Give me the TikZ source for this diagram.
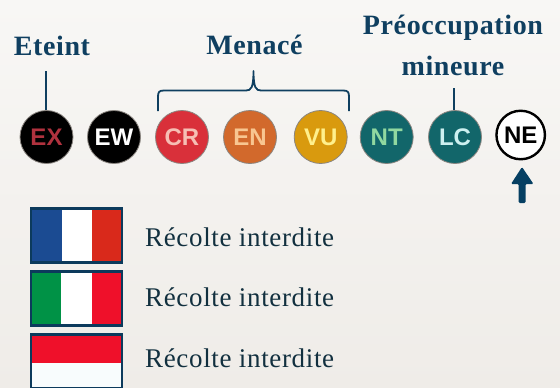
\documentclass[tikz,border=0pt]{standalone}
\usepackage{fontspec}
\setmainfont{Liberation Serif}
\newfontfamily\badgefont{Liberation Sans}
\newfontfamily\headfont[LetterSpace=2.2]{Liberation Serif}
\newfontfamily\capfont[LetterSpace=2.4]{Liberation Serif}
\definecolor{navy}{HTML}{0F3F60}
\definecolor{framec}{HTML}{0C3A5C}
\definecolor{arrowc}{HTML}{053F62}
\definecolor{bodyc}{HTML}{12303F}
\definecolor{bgtop}{HTML}{F8F7F5}
\definecolor{bgbot}{HTML}{EFECE8}
\definecolor{rimc}{HTML}{8A8580}
\tikzset{
  x=1pt,y=-1pt,
  badge/.style={circle,draw=rimc,line width=0.8pt,minimum size=53pt,inner sep=0pt,font=\badgefont\bfseries\fontsize{24}{24}\selectfont},
  head/.style={text=navy,font=\headfont\bfseries\fontsize{28}{41}\selectfont,align=center,inner sep=0pt},
  leader/.style={draw=navy,line width=1.8pt},
  flagframe/.style={draw=framec,line width=2.6pt},
  caption/.style={text=bodyc,font=\capfont\fontsize{27}{30}\selectfont,anchor=base west,inner sep=0pt},
}
\begin{document}
\begin{tikzpicture}
\useasboundingbox (0,0) rectangle (560,388);
\shade[top color=bgtop,bottom color=bgbot] (0,0) rectangle (560,388);
% labels
\node[head,anchor=base] (eteint) at (52,55) {Eteint};
\node[head,anchor=base] (menace) at (254.5,54.5) {Menacé};
\node[head] (preoc) at (453,45) {Préoccupation\\mineure};
% badges
\node[badge,fill=black,text={rgb,255:red,176;green,50;blue,62}] (ex) at (46.5,137) {EX};
\node[badge,fill=black,text=white] (ew) at (114,137) {EW};
\node[badge,fill={rgb,255:red,217;green,48;blue,58},text={rgb,255:red,246;green,190;blue,180}] (cr) at (182,137) {CR};
\node[badge,fill={rgb,255:red,210;green,105;blue,44},text={rgb,255:red,248;green,198;blue,145}] (en) at (250,137) {EN};
\node[badge,fill={rgb,255:red,217;green,154;blue,14},text={rgb,255:red,255;green,240;blue,140}] (vu) at (320.7,137) {VU};
\node[badge,fill={rgb,255:red,18;green,102;blue,106},text={rgb,255:red,145;green,216;blue,160}] (nt) at (386.7,137) {NT};
\node[badge,fill={rgb,255:red,18;green,102;blue,106},text={rgb,255:red,205;green,240;blue,240}] (lc) at (455,137) {LC};
\node[badge,fill=white,text=black,draw=black,line width=2.4pt,minimum size=48.5pt] (ne) at (520.7,135) {NE};
% leaders
\coordinate (extop) at (46,71);
\draw[leader] (extop) -- (ex.north -| extop);
\coordinate (lctop) at (453.7,88);
\draw[leader] (lctop) -- (lc.north -| lctop);
% brace
\coordinate (brl) at (158,111);
\coordinate (brr) at (349,111);
\coordinate (brt) at (253.5,71);
\draw[leader,line join=round] (brl) -- (158,97) .. controls (158,92) and (159,90.5) .. (164,90.5)
  -- (246,90.5) .. controls (251,90.5) and (253.5,88) .. (brt)
  .. controls (253.5,88) and (256,90.5) .. (261,90.5)
  -- (343,90.5) .. controls (348,90.5) and (349,92) .. (349,97) -- (brr);
% arrow
\fill[arrowc,rounded corners=1.2pt] (518.7,203) -- (518.7,184) -- (511,184) -- (522,167) -- (533.5,184) -- (525.5,184) -- (525.5,203) -- cycle;
% France
\fill[white] (31,209) rectangle (122,262);
\fill[fill={rgb,255:red,27;green,75;blue,146}] (31,209) rectangle (62,263);
\fill[fill={rgb,255:red,217;green,41;blue,27}] (92,209) rectangle (122,263.5);
\node[flagframe,draw,minimum width=91pt,minimum height=54pt,inner sep=0pt] (fr) at (76.5,235.5) {};
\node[caption] (frt) at (145,246) {Récolte interdite};
% Italy
\fill[white] (31,272) rectangle (122,325);
\fill[fill={rgb,255:red,0;green,146;blue,70}] (31,272) rectangle (61,326.5);
\fill[fill={rgb,255:red,239;green,16;blue,42}] (92,272) rectangle (122,326.5);
\node[flagframe,draw,minimum width=91pt,minimum height=54pt,inner sep=0pt] (it) at (76.5,298.5) {};
\node[caption] (itt) at (145,306.7) {Récolte interdite};
% Monaco
\fill[fill={rgb,255:red,248;green,252;blue,253}] (31,335) rectangle (122,388);
\fill[fill={rgb,255:red,239;green,16;blue,42}] (31,335) rectangle (122,363);
\node[flagframe,draw,minimum width=91pt,minimum height=54pt,inner sep=0pt] (mc) at (76.5,361.5) {};
\node[caption] (mct) at (145,367.7) {Récolte interdite};
\end{tikzpicture}
\end{document}
